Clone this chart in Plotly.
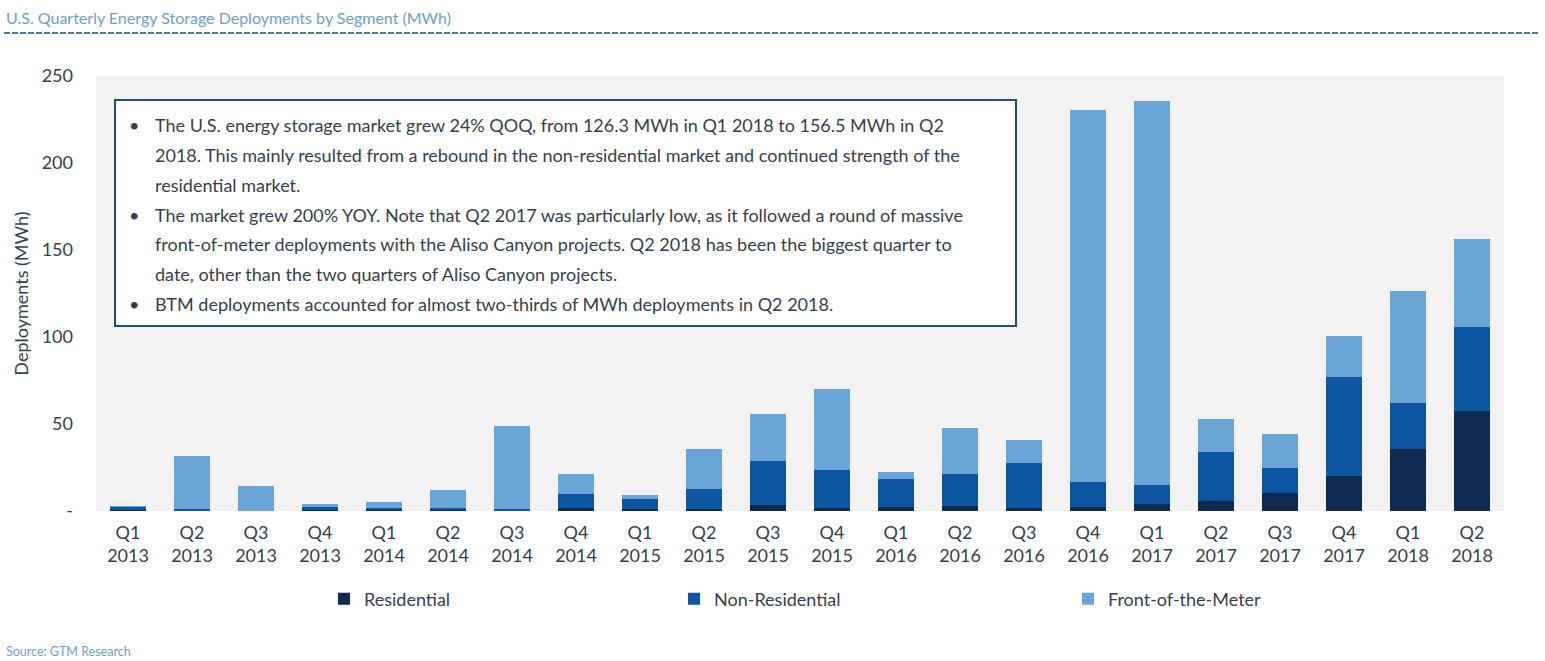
import plotly.graph_objects as go

# Datos (MWh por trimestre)
quarters = ["Q1", "Q2", "Q3", "Q4"] * 5 + ["Q1", "Q2"]
years = ["2013"] * 4 + ["2014"] * 4 + ["2015"] * 4 + ["2016"] * 4 + ["2017"] * 4 + ["2018"] * 2

residential = [0.3, 0.3, 0.0, 0.6, 0.7, 0.3, 0.3, 1.5, 1.2, 1.2, 3.5,
               2.0, 2.5, 2.8, 2.0, 2.5, 3.8, 6.0, 10.2, 20.2, 35.8, 57.7]
non_residential = [2.2, 0.8, 0.2, 1.8, 1.2, 1.2, 1.0, 8.3, 5.7, 11.5, 25.4,
                   21.5, 15.8, 18.6, 25.7, 14.1, 11.0, 27.8, 14.5, 57.0, 26.4, 47.8]
front_of_meter = [0.2, 30.6, 14.0, 1.5, 3.1, 10.6, 47.6, 11.6, 2.1, 22.7, 26.7,
                  46.5, 4.4, 26.5, 13.1, 214.0, 221.0, 18.9, 19.6, 23.4, 64.1, 51.0]

y_ticks = [0, 50, 100, 150, 200, 250]
y_tick_text = ["-", "50", "100", "150", "200", "250"]

notes = [
    ("•", "The U.S. energy storage market grew 24% QOQ, from 126.3 MWh in Q1 2018 to 156.5 MWh in Q2"),
    ("", "2018. This mainly resulted from a rebound in the non-residential market and continued strength of the"),
    ("", "residential market."),
    ("•", "The market grew 200% YOY. Note that Q2 2017 was particularly low, as it followed a round of massive"),
    ("", "front-of-meter deployments with the Aliso Canyon projects. Q2 2018 has been the biggest quarter to"),
    ("", "date, other than the two quarters of Aliso Canyon projects."),
    ("•", "BTM deployments accounted for almost two-thirds of MWh deployments in Q2 2018."),
]

labels = [q + "<br>" + y for q, y in zip(quarters, years)]

FONT = "Lato"
TEXT = "#353f4d"
W, H = 1545, 661
L, R, T, B = 96, 41, 76, 150


# pixel -> paper
def px(x):
    return (x - L) / (W - L - R)


def py(y):
    return (H - B - y) / (H - T - B)


fig = go.Figure()
series = [
    ("Residential", residential, "#0e2a4e", "legend", 324),
    ("Non-Residential", non_residential, "#0b55a3", "legend2", 674),
    ("Front-of-the-Meter", front_of_meter, "#69a5d7", "legend3", 1068),
]
legends = {}
for name, vals, col, leg, lx in series:
    fig.add_trace(go.Bar(x=labels, y=vals, name=name, marker=dict(color=col, line=dict(width=0)),
                         legend=leg, width=0.55))
    legends[leg] = dict(orientation="h", yanchor="middle", y=py(599), xanchor="left", x=px(lx),
                        font=dict(family=FONT, size=18, color=TEXT), bgcolor="rgba(0,0,0,0)")

fig.update_layout(
    width=W, height=H,
    barmode="stack",
    paper_bgcolor="white",
    plot_bgcolor="#f2f2f2",
    margin=dict(l=L, r=R, t=T, b=B, autoexpand=False),
    font=dict(family=FONT, color=TEXT),
    showlegend=True,
    **legends,
    xaxis=dict(showgrid=False, showline=False, ticks="", tickfont=dict(size=18, color=TEXT),
               ticklabelstandoff=9, fixedrange=True),
    yaxis=dict(range=[0, 250], tickvals=y_ticks, ticktext=y_tick_text, showgrid=False,
               zeroline=False, showline=False, ticks="", tickfont=dict(size=18, color=TEXT),
               ticklabelstandoff=22,
               title=dict(text="Deployments (MWh)", font=dict(size=18, color=TEXT), standoff=8)),
)

# titulo y linea punteada
fig.add_annotation(text="U.S. Quarterly Energy Storage Deployments by Segment (MWh)",
                   xref="paper", yref="paper", x=px(4), y=py(17), xanchor="left", yanchor="middle",
                   showarrow=False, font=dict(family=FONT, size=16, color="#6a9fd4"))
fig.add_shape(type="line", xref="paper", yref="paper", x0=px(4), x1=px(1538), y0=py(33), y1=py(33),
              line=dict(color="#1f4e79", width=1.5, dash="6px,2px"))

# caja de notas
fig.add_shape(type="rect", xref="paper", yref="paper", x0=px(115), x1=px(1016), y0=py(326), y1=py(100),
              line=dict(color="#1f4e79", width=2), fillcolor="white", layer="above")
line_y = [125, 155, 185, 215, 244.5, 274, 303.5]
for (bullet, txt), yy in zip(notes, line_y):
    if bullet:
        fig.add_annotation(text=bullet, xref="paper", yref="paper", x=px(134), y=py(yy),
                           xanchor="center", yanchor="middle", showarrow=False,
                           font=dict(family=FONT, size=18, color=TEXT))
    fig.add_annotation(text=txt, xref="paper", yref="paper", x=px(153), y=py(yy),
                       xanchor="left", yanchor="middle", showarrow=False,
                       font=dict(family=FONT, size=18, color=TEXT))

fig.add_annotation(text="Source: GTM Research", xref="paper", yref="paper", x=px(4), y=py(651),
                   xanchor="left", yanchor="middle", showarrow=False,
                   font=dict(family=FONT, size=12.5, color="#6a9fd4"))

fig.write_html("out.html", config={"displayModeBar": False},
               post_script="document.body.style.margin='0px';")
